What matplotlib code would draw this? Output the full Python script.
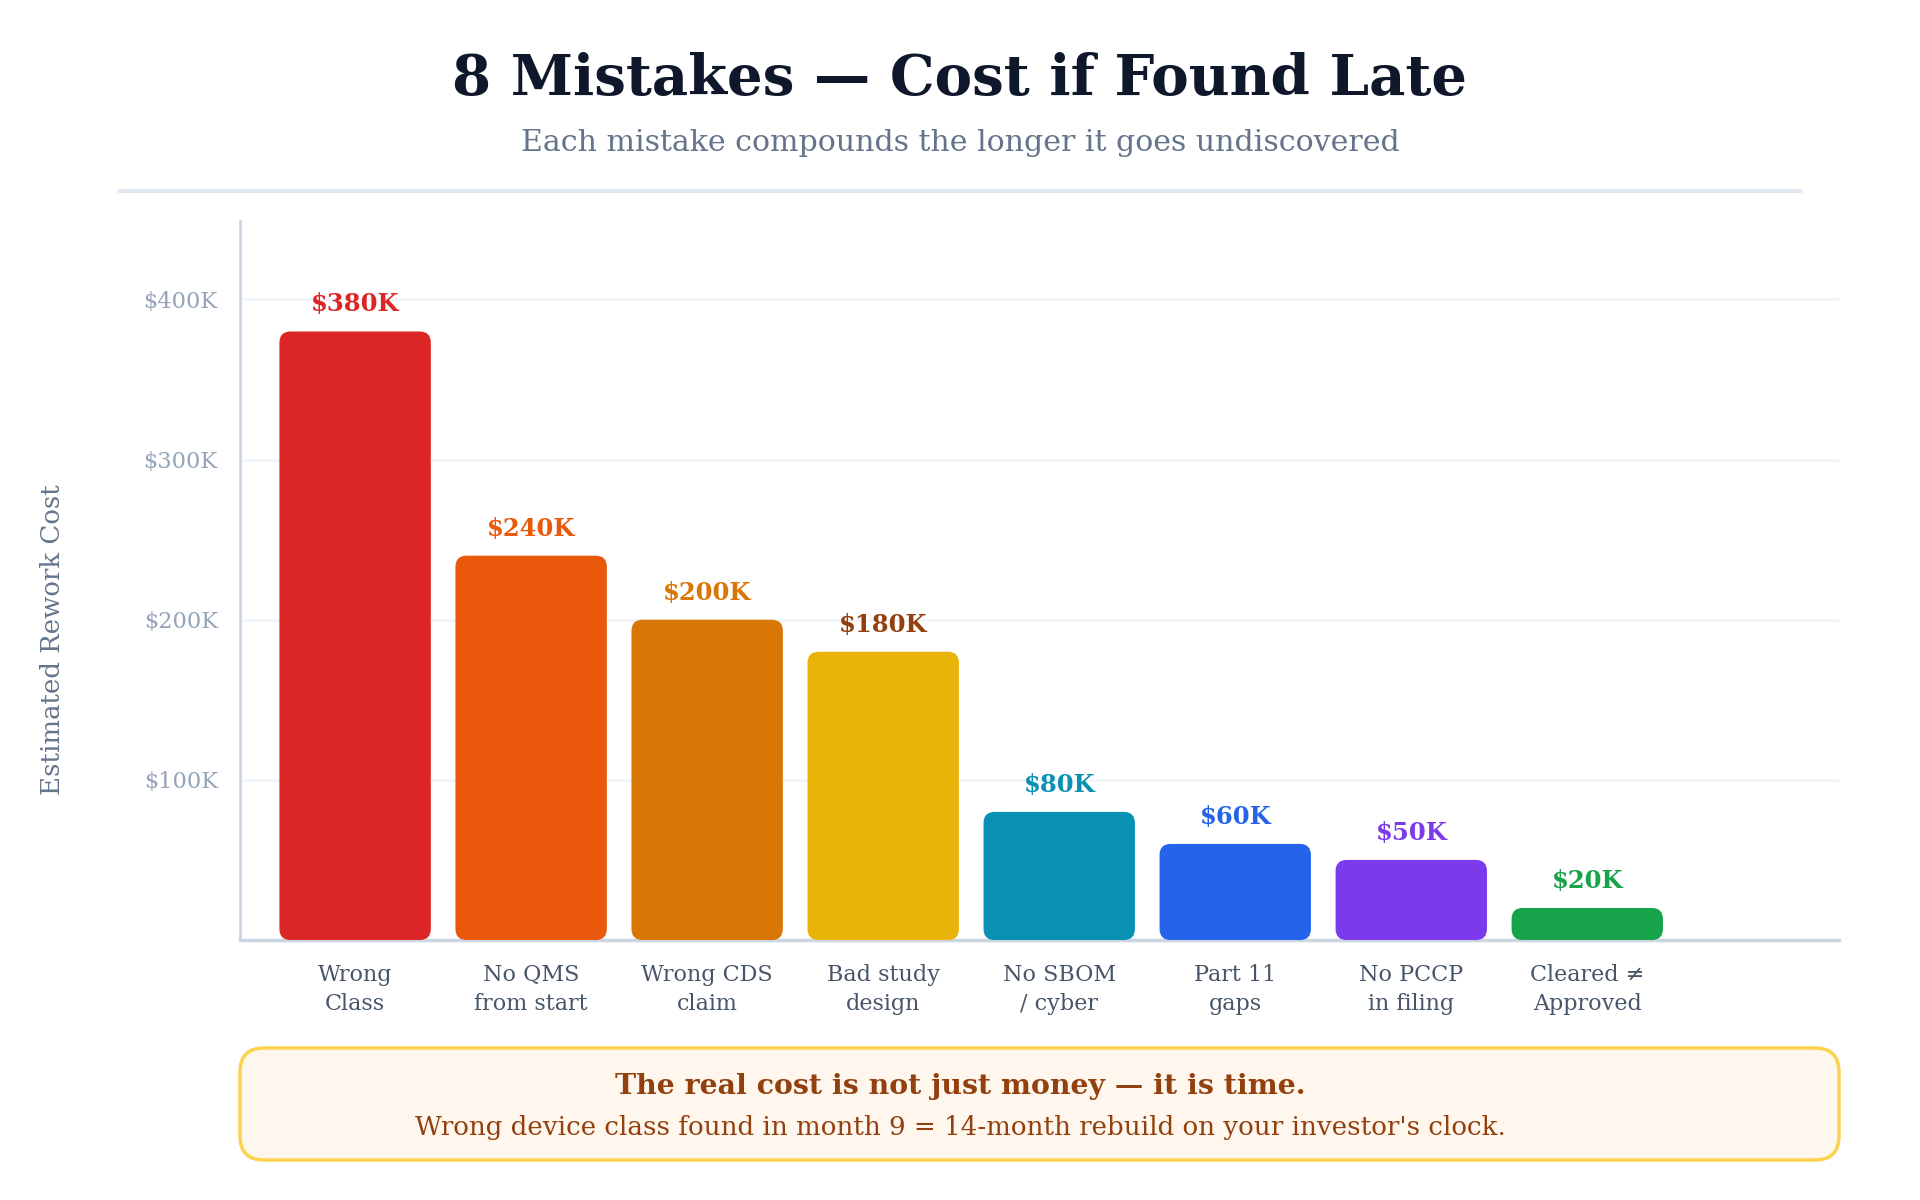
import matplotlib
matplotlib.use("Agg")
import matplotlib.pyplot as plt
from matplotlib.patches import FancyBboxPatch
from matplotlib.lines import Line2D

# data
mistakes = ["Wrong\nClass", "No QMS\nfrom start", "Wrong CDS\nclaim", "Bad study\ndesign",
            "No SBOM\n/ cyber", "Part 11\ngaps", "No PCCP\nin filing", "Cleared \u2260\nApproved"]
costs = [380000, 240000, 200000, 180000, 80000, 60000, 50000, 20000]
value_labels = ["$380K", "$240K", "$200K", "$180K", "$80K", "$60K", "$50K", "$20K"]
bar_colors = ["#dc2626", "#ea580c", "#d97706", "#eab308", "#0891b2", "#2563eb", "#7c3aed", "#16a34a"]
label_colors = ["#dc2626", "#ea580c", "#d97706", "#92400e", "#0891b2", "#2563eb", "#7c3aed", "#16a34a"]
yticks = [100000, 200000, 300000, 400000]
ytick_labels = ["$100K", "$200K", "$300K", "$400K"]

plt.rcParams['font.family'] = ['DejaVu Serif']

W, H = 1920, 1200
fig = plt.figure(figsize=(19.2, 12), dpi=100)
fig.patch.set_facecolor("white")

ax_l, ax_r, ax_b, ax_t = 240, 1839, 260, 979  # pixels (bottom-origin)
ax = fig.add_axes([ax_l / W, ax_b / H, (ax_r - ax_l) / W, (ax_t - ax_b) / H])
xmin, xmax = -0.654, 8.43
ymax = 449000
ax.set_xlim(xmin, xmax)
ax.set_ylim(0, ymax)

# bars -> rounded patches
bars = ax.bar(range(len(costs)), costs, width=0.86, color=bar_colors)
xpp = (xmax - xmin) / (ax_r - ax_l)
ypp = ymax / (ax_t - ax_b)
aspect = ypp / xpp
for rect, col in zip(bars, bar_colors):
    x, w, h = rect.get_x(), rect.get_width(), rect.get_height()
    rect.remove()
    p = FancyBboxPatch((x, 0), w, h,
                       boxstyle="round,pad=0,rounding_size=%f" % (11 * xpp),
                       mutation_aspect=aspect, facecolor=col, edgecolor="none", zorder=3)
    ax.add_patch(p)

for i, (c, lab, lc) in enumerate(zip(costs, value_labels, label_colors)):
    ax.annotate(lab, (i, c), xytext=(0, 27), textcoords="offset pixels",
                ha="center", va="center", fontsize=17.5, fontweight="bold", color=lc)

# axes styling
for s in ["top", "right"]:
    ax.spines[s].set_visible(False)
ax.spines["left"].set_color("#cbd5e1")
ax.spines["left"].set_linewidth(2)
ax.spines["bottom"].set_color("#cbd5e1")
ax.spines["bottom"].set_linewidth(2.5)
ax.set_yticks(yticks)
ax.set_yticklabels(ytick_labels)
ax.set_xticks(range(len(mistakes)))
ax.set_xticklabels(mistakes, linespacing=1.42)
ax.tick_params(axis="y", length=0, pad=16, labelsize=16.2, labelcolor="#94a3b8")
ax.tick_params(axis="x", length=0, pad=17, labelsize=16, labelcolor="#475569")
ax.grid(axis="y", color="#f1f5f9", linewidth=2, zorder=0)
ax.set_axisbelow(True)

fig.text(53 / W, 1 - 640 / H, "Estimated Rework Cost", rotation=90, ha="center", va="center",
         fontsize=18.7, color="#64748b")

# header
fig.text(0.5, 1 - 80 / H, "8 Mistakes \u2014 Cost if Found Late", ha="center", va="center",
         fontsize=40.5, fontweight="bold", color="#0f172a")
fig.text(0.5, 1 - 143 / H, "Each mistake compounds the longer it goes undiscovered",
         ha="center", va="center", fontsize=21.6, color="#64748b")
fig.add_artist(Line2D([120 / W, 1800 / W], [1 - 191 / H, 1 - 191 / H], transform=fig.transFigure,
                      color="#e2e8f0", linewidth=3))

# callout box
bx0, bx1, by0, by1 = 240, 1839, 40, 152
box = FancyBboxPatch((bx0 / W, by0 / H), (bx1 - bx0) / W, (by1 - by0) / H,
                     boxstyle="round,pad=0,rounding_size=%f" % (24 / W),
                     mutation_aspect=W / H, transform=fig.transFigure,
                     facecolor="#fff7ed", edgecolor="#fcd34d", linewidth=2.5)
fig.add_artist(box)
fig.text(0.5, 1 - 1087 / H, "The real cost is not just money \u2014 it is time.", ha="center", va="center",
         fontsize=20.4, fontweight="bold", color="#92400e")
fig.text(0.5, 1 - 1128 / H, "Wrong device class found in month 9 = 14-month rebuild on your investor's clock.",
         ha="center", va="center", fontsize=18.8, color="#92400e")

fig.savefig("out.png", dpi=100, facecolor="white")
